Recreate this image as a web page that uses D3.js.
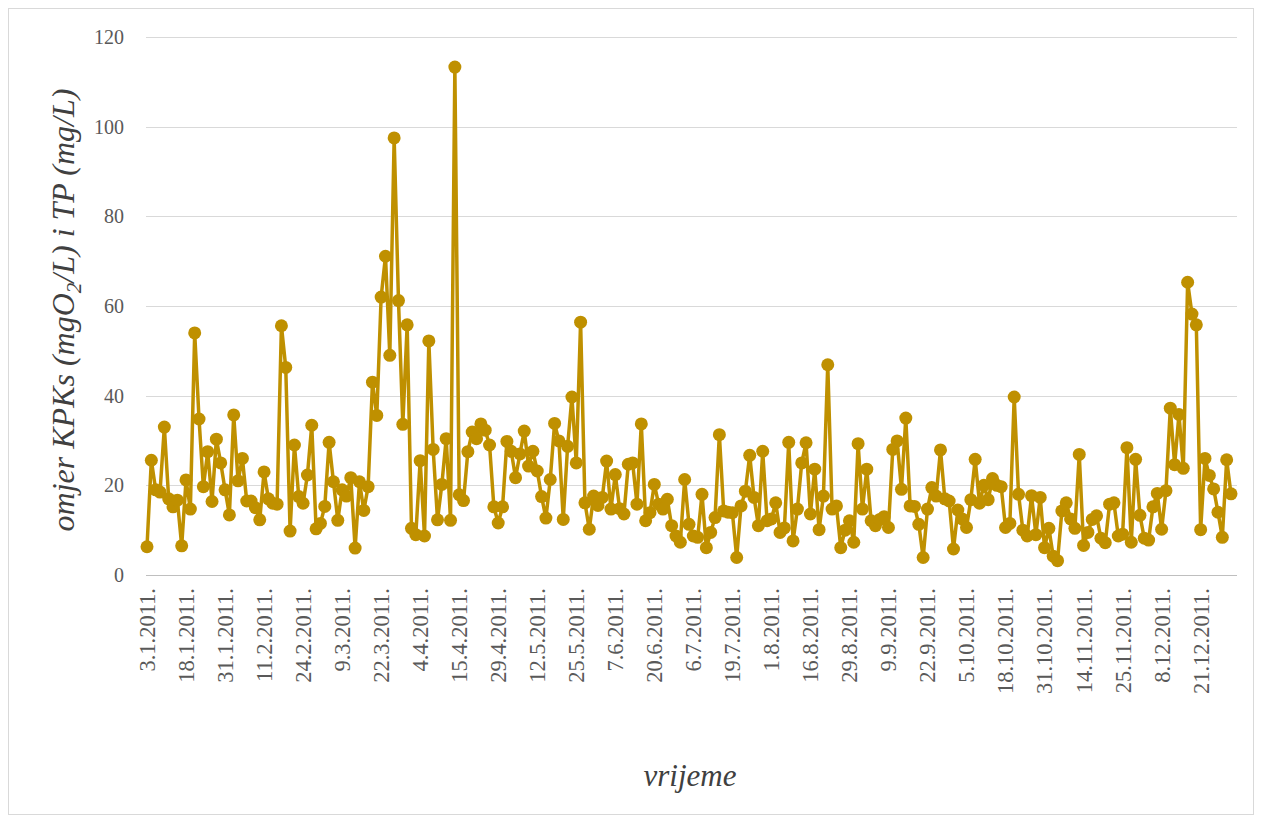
<!DOCTYPE html>
<html><head><meta charset="utf-8">
<script src="https://cdn.jsdelivr.net/npm/d3@7"></script>
<style>body{margin:0;background:#fff}svg{display:block}</style>
</head><body><svg id="c" width="1262" height="822"></svg>
<script>
const values = [
6.3,25.6,19,18.5,33,17,15.2,16.7,6.5,21.2,
14.7,54,34.8,19.7,27.5,16.4,30.3,25,19,13.4,
35.7,21,26,16.5,16.5,15,12.3,23,17,16,
15.8,55.6,46.3,9.8,29,17.5,16,22.3,33.4,10.3,
11.5,15.3,29.6,20.8,12.2,19,17.6,21.7,6,20.8,
14.4,19.7,43,35.6,62,71.1,49,97.5,61.2,33.6,
55.8,10.4,9,25.5,8.7,52.2,28,12.3,20.2,30.4,
12.2,113.3,17.9,16.6,27.5,31.9,30.4,33.7,32.3,29,
15.2,11.6,15.2,29.8,27.6,21.7,27,32.1,24.3,27.6,
23.2,17.5,12.7,21.3,33.8,29.9,12.4,28.7,39.7,25,
56.4,16.1,10.2,17.6,15.5,17.3,25.4,14.7,22.4,14.8,
13.6,24.7,25,15.8,33.7,12.1,13.9,20.2,15.8,14.7,
16.9,11,8.7,7.3,21.3,11.3,8.7,8.4,18,6.1,
9.5,12.8,31.3,14.3,14,13.9,3.9,15.4,18.7,26.7,
17.3,11,27.6,12.1,12.5,16.1,9.5,10.5,29.6,7.6,
14.7,25,29.5,13.6,23.6,10.1,17.6,46.9,14.7,15.4,
6.1,10,12.1,7.3,29.3,14.7,23.6,12.1,11,12.4,
13,10.6,28,29.9,19.1,35,15.4,15.3,11.3,3.9,
14.7,19.5,17.6,27.9,17,16.5,5.8,14.5,12.5,10.6,
16.8,25.8,16,20,16.8,21.5,20,19.7,10.6,11.5,
39.7,18,10,8.7,17.7,9,17.3,6.1,10.4,4.2,
3.2,14.3,16.1,12.5,10.4,26.9,6.6,9.5,12.4,13.2,
8.2,7.2,15.8,16.1,8.7,9.1,28.4,7.3,25.8,13.3,
8.2,7.8,15.2,18.2,10.2,18.8,37.2,24.6,35.8,23.8,
65.3,58.2,55.8,10.1,26,22.2,19.2,14,8.4,25.7,
18.1
];
const tickLabels = ["3.1.2011.","18.1.2011.","31.1.2011.","11.2.2011.","24.2.2011.","9.3.2011.","22.3.2011.","4.4.2011.","15.4.2011.","29.4.2011.","12.5.2011.","25.5.2011.","7.6.2011.","20.6.2011.","6.7.2011.","19.7.2011.","1.8.2011.","16.8.2011.","29.8.2011.","9.9.2011.","22.9.2011.","5.10.2011.","18.10.2011.","31.10.2011.","14.11.2011.","25.11.2011.","8.12.2011.","21.12.2011."];
const labelStep = 9;
const yTicks = [0,20,40,60,80,100,120];

const svg = d3.select("#c");
const pLeft = 146, pRight = 1237, pTop = 37, pBottom = 575;
const color = "#BF9000";
const serif = "Liberation Serif, Times New Roman, serif";

svg.append("rect").attr("x",8.5).attr("y",8.5).attr("width",1245).attr("height",806)
  .attr("fill","#fff").attr("stroke","#d9d9d9").attr("stroke-width",1);

const x = d3.scalePoint().domain(d3.range(values.length)).range([147,1231]);
const y = d3.scaleLinear().domain([0,120]).range([pBottom,pTop]);

svg.append("g").selectAll("line").data(yTicks).join("line")
  .attr("x1",pLeft).attr("x2",pRight)
  .attr("y1",d=>Math.round(y(d))+0.5).attr("y2",d=>Math.round(y(d))+0.5)
  .attr("stroke",d=>d===0?"#bfbfbf":"#d9d9d9").attr("stroke-width",1);

const ya = svg.append("g").attr("transform",`translate(${pLeft},0)`)
  .call(d3.axisLeft(y).tickValues(yTicks).tickSize(0).tickPadding(22));
ya.select(".domain").remove();
ya.selectAll("text").attr("font-family",serif).attr("font-size",20).attr("fill","#595959");

const xa = svg.append("g").attr("transform",`translate(0,${pBottom})`)
  .call(d3.axisBottom(x).tickValues(d3.range(0, values.length, labelStep))
    .tickFormat(i => tickLabels[i/labelStep] || "").tickSize(0));
xa.select(".domain").remove();
xa.selectAll("text")
  .attr("font-family",serif).attr("font-size",22.5).attr("fill","#595959")
  .attr("transform","rotate(-90)").attr("text-anchor","end")
  .attr("x",-13).attr("y",0).attr("dy","0.33em");

svg.append("path").datum(values)
  .attr("fill","none").attr("stroke",color).attr("stroke-width",3.5).attr("stroke-linejoin","round")
  .attr("d", d3.line().x((d,i)=>x(i)).y(d=>y(d)));

svg.append("g").selectAll("circle").data(values).join("circle")
  .attr("cx",(d,i)=>x(i)).attr("cy",d=>y(d)).attr("r",6.5).attr("fill",color);

const yt = svg.append("text").attr("transform",`translate(74,${(pTop+pBottom)/2+4}) rotate(-90)`)
  .attr("text-anchor","middle").attr("font-family",serif)
  .attr("font-style","italic").attr("font-size",32).attr("fill","#404040");
yt.append("tspan").text("omjer KPKs (mgO");
yt.append("tspan").attr("font-size",21).attr("dy",7).text("2");
yt.append("tspan").attr("dy",-7).text("/L) i TP (mg/L)");

svg.append("text").attr("x",690).attr("y",786).attr("text-anchor","middle")
  .attr("font-family",serif).attr("font-style","italic")
  .attr("font-size",31).attr("fill","#404040").text("vrijeme");
</script></body></html>
